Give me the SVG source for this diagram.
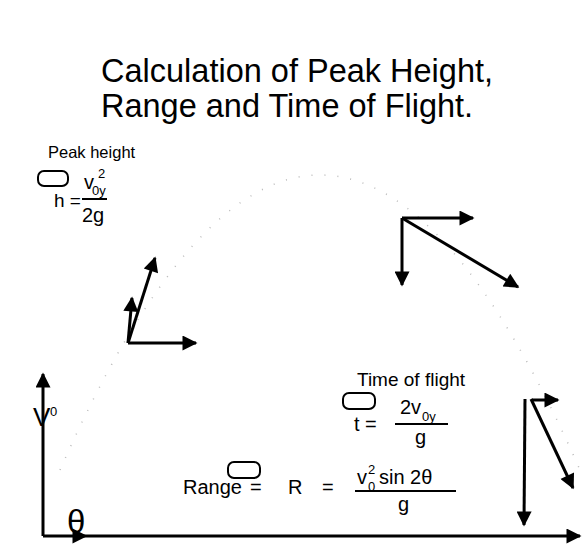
<svg xmlns="http://www.w3.org/2000/svg" width="584" height="546" viewBox="0 0 584 546">
<defs>
<marker id="ah" viewBox="0 0 10 10" refX="9" refY="5" markerWidth="6" markerHeight="5" markerUnits="strokeWidth" orient="auto">
<path d="M0,0 L10,5 L0,10 Z" fill="#000"/>
</marker>
<style>
text{font-family:"Liberation Sans",Arial,sans-serif;fill:#000}
.title{font-size:32.5px}
.lbl{font-size:19px}
.eq{font-size:20px}
.sup{font-size:13px}
.ar{stroke:#000;stroke-width:3;fill:none;marker-end:url(#ah)}
.bar{stroke:#000;stroke-width:2}
.box{fill:none;stroke:#000;stroke-width:2}
.traj{fill:none;stroke:#bbb;stroke-width:1.5;stroke-dasharray:1 12}
</style>
</defs>
<rect width="584" height="546" fill="#fff"/>
<g id="title">
<text class="title" x="101" y="82">Calculation of Peak Height,</text>
<text class="title" x="101" y="117">Range and Time of Flight.</text>
</g>
<path class="traj" d="M60,470 Q320,-120 580,470"/>
<g id="peak-height">
<text x="48" y="158" style="font-size:16.5px">Peak height</text>
<rect class="box" x="38" y="171" width="30" height="15" rx="6"/>
<text class="eq" x="84" y="189">v</text>
<text class="sup" x="98" y="178">2</text>
<text class="sup" x="92" y="195">0y</text>
<text x="54" y="207" style="font-size:19px">h =</text>
<line class="bar" x1="82" y1="199" x2="107" y2="199"/>
<text class="eq" x="82" y="222">2g</text>
</g>
<g id="time-of-flight">
<text class="lbl" x="357" y="386">Time of flight</text>
<rect class="box" x="343" y="393" width="32" height="16" rx="6"/>
<text class="eq" x="400" y="414">2v</text>
<text class="sup" x="422" y="421">0y</text>
<text class="eq" x="354" y="431">t =</text>
<line class="bar" x1="395" y1="424" x2="448" y2="424"/>
<text class="eq" x="415" y="444">g</text>
</g>
<g id="range">
<rect class="box" x="228" y="462" width="32" height="16" rx="6"/>
<text class="eq" x="183" y="494">Range</text>
<text class="eq" x="250" y="494">=</text>
<text class="eq" x="288" y="494">R</text>
<text class="eq" x="322" y="494">=</text>
<text class="eq" x="357" y="484">v</text>
<text class="sup" x="368" y="474">2</text>
<text class="sup" x="368" y="491">0</text>
<text class="eq" x="379" y="484">sin 2θ</text>
<line class="bar" x1="355" y1="491" x2="456" y2="491"/>
<text class="eq" x="398" y="511">g</text>
</g>
<g id="launch">
<text x="33" y="426" style="font-size:26px">V</text>
<text class="sup" x="50" y="416">0</text>
<text x="67" y="533" style="font-size:33px">θ</text>
</g>
<g id="connectors">
<line class="ar" x1="43" y1="536" x2="43" y2="374"/>
<line class="ar" x1="43" y1="536" x2="86" y2="536"/>
<line class="ar" x1="86" y1="536" x2="580" y2="536"/>
<line class="ar" x1="128" y1="343" x2="196" y2="343"/>
<line class="ar" x1="128" y1="343" x2="155" y2="258"/>
<line class="ar" x1="128" y1="343" x2="132" y2="298"/>
<line class="ar" x1="402" y1="218" x2="473" y2="218"/>
<line class="ar" x1="402" y1="218" x2="402" y2="285"/>
<line class="ar" x1="402" y1="218" x2="518" y2="287"/>
<line class="ar" x1="525" y1="399" x2="524" y2="525"/>
<line class="ar" x1="531" y1="399" x2="573" y2="488"/>
<line class="ar" x1="532" y1="400" x2="558" y2="400"/>
</g>
</svg>
